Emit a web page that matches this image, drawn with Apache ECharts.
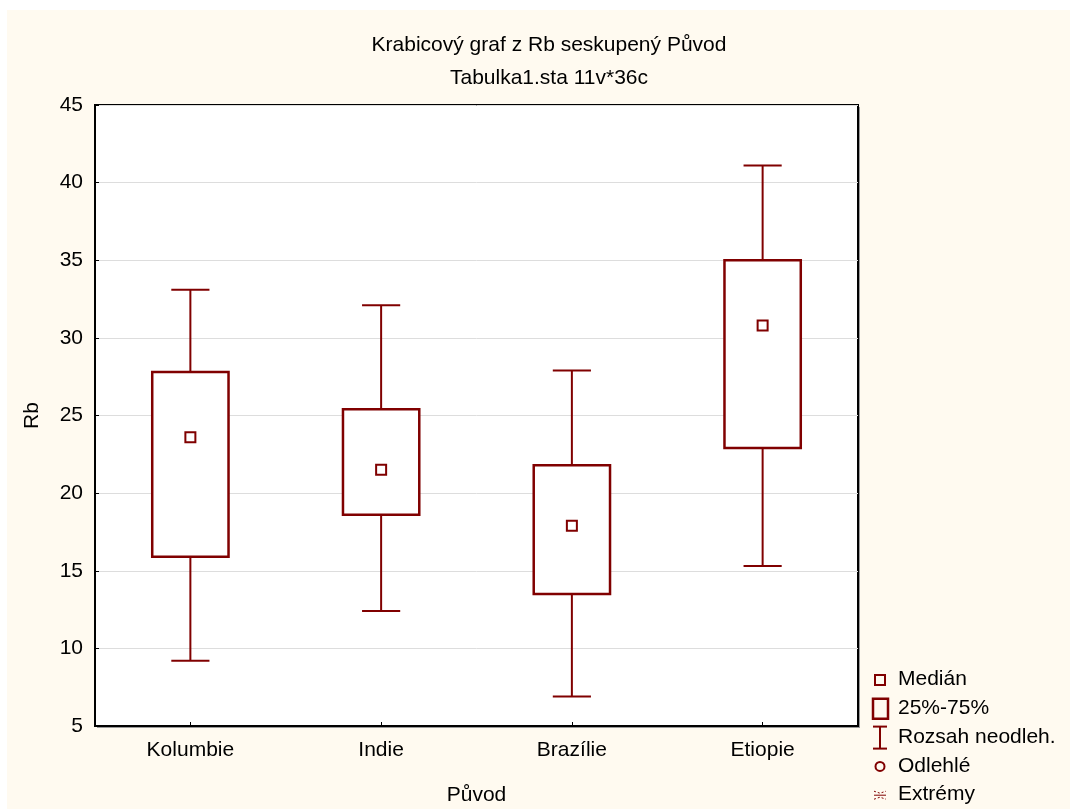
<!DOCTYPE html>
<html>
<head>
<meta charset="utf-8">
<script src="https://cdn.jsdelivr.net/npm/echarts@6/dist/echarts.min.js"></script>
<style>
html,body{margin:0;padding:0;background:#fff;overflow:hidden;}
#c{width:1070px;height:809px;}
</style>
</head>
<body>
<div id="c"></div>
<script>
// ---- data ----
var categories = ['Kolumbie', 'Indie', 'Brazílie', 'Etiopie'];
var whiskerLow  = [9.2, 12.4, 6.9, 15.3];
var q1          = [15.9, 18.6, 13.5, 22.9];
var medians     = [23.6, 21.5, 17.9, 30.8];
var q3          = [27.8, 25.4, 21.8, 35.0];
var whiskerHigh = [33.1, 32.1, 27.9, 41.1];
var yTicks = [5, 10, 15, 20, 25, 30, 35, 40, 45];
var legendLabels = ['Medián', '25%-75%', 'Rozsah neodleh.', 'Odlehlé', 'Extrémy'];

var FONT = 'Liberation Sans, Arial, sans-serif';
var FS = 21;
var RED = '#800000';

var seriesData = categories.map(function (c, i) {
  return [i, whiskerLow[i], q1[i], medians[i], q3[i], whiskerHigh[i]];
});

function renderBox(params, api) {
  var i = api.value(0);
  var band = api.size([1, 0])[0];
  var bw = band * 0.4, cw = band * 0.2;
  var pLo = api.coord([i, api.value(1)]);
  var pQ1 = api.coord([i, api.value(2)]);
  var pMd = api.coord([i, api.value(3)]);
  var pQ3 = api.coord([i, api.value(4)]);
  var pHi = api.coord([i, api.value(5)]);
  var x = pLo[0];
  var ls = {stroke: RED, lineWidth: 2, fill: null};
  return {
    type: 'group',
    children: [
      {type: 'line', shape: {x1: x, y1: pHi[1], x2: x, y2: pQ3[1]}, style: ls},
      {type: 'line', shape: {x1: x - cw / 2, y1: pHi[1], x2: x + cw / 2, y2: pHi[1]}, style: ls},
      {type: 'line', shape: {x1: x, y1: pLo[1], x2: x, y2: pQ1[1]}, style: ls},
      {type: 'line', shape: {x1: x - cw / 2, y1: pLo[1], x2: x + cw / 2, y2: pLo[1]}, style: ls},
      {type: 'rect', shape: {x: x - bw / 2, y: pQ3[1], width: bw, height: pQ1[1] - pQ3[1]},
        style: {stroke: RED, lineWidth: 2.5, fill: '#fff'}},
      {type: 'rect', shape: {x: x - 5, y: pMd[1] - 5, width: 10, height: 10},
        style: {stroke: RED, lineWidth: 2, fill: '#fff'}}
    ]
  };
}

// legend graphics
var lgX = 880, lgTextX = 898, lgY0 = 680, lgStep = 28.8;
var legendGraphics = [];
legendLabels.forEach(function (t, k) {
  legendGraphics.push({type: 'text', left: lgTextX, top: lgY0 + k * lgStep - 11,
    style: {text: t, fill: '#000', font: FS + 'px ' + FONT}});
});
var ly = function (k) { return lgY0 + k * lgStep; };
legendGraphics.push(
  {type: 'rect', shape: {x: lgX - 5, y: ly(0) - 5, width: 10, height: 10}, style: {stroke: RED, lineWidth: 2, fill: 'transparent'}},
  {type: 'rect', shape: {x: lgX - 7, y: ly(1) - 10, width: 15, height: 20}, style: {stroke: RED, lineWidth: 2.5, fill: 'transparent'}},
  {type: 'line', shape: {x1: lgX, y1: ly(2) - 11, x2: lgX, y2: ly(2) + 11}, style: {stroke: RED, lineWidth: 2}},
  {type: 'line', shape: {x1: lgX - 7, y1: ly(2) - 11, x2: lgX + 7, y2: ly(2) - 11}, style: {stroke: RED, lineWidth: 2}},
  {type: 'line', shape: {x1: lgX - 7, y1: ly(2) + 11, x2: lgX + 7, y2: ly(2) + 11}, style: {stroke: RED, lineWidth: 2}},
  {type: 'circle', shape: {cx: lgX, cy: ly(3), r: 4.5}, style: {stroke: RED, lineWidth: 2, fill: 'transparent'}},
  {type: 'polyline', shape: {points: [[lgX - 6, ly(4) - 4], [lgX, ly(4) - 2], [lgX + 6, ly(4) - 4]]}, style: {stroke: RED, lineWidth: 1, lineDash: [2, 2], fill: null}},
  {type: 'line', shape: {x1: lgX - 6, y1: ly(4), x2: lgX + 6, y2: ly(4)}, style: {stroke: RED, lineWidth: 1}},
  {type: 'polyline', shape: {points: [[lgX - 6, ly(4) + 4], [lgX, ly(4) + 2], [lgX + 6, ly(4) + 4]]}, style: {stroke: RED, lineWidth: 1, lineDash: [2, 2], fill: null}}
);

var chart = echarts.init(document.getElementById('c'));
chart.setOption({
  animation: false,
  backgroundColor: '#fff',
  graphic: [
    {type: 'rect', z: -10, shape: {x: 7, y: 10, width: 1063, height: 799}, style: {fill: '#FFFAF0'}},
    {type: 'rect', z: -9, shape: {x: 97, y: 107, width: 763, height: 621}, style: {fill: '#999'}}
  ].concat(legendGraphics),
  title: [
    {text: 'Krabicový graf z Rb seskupený Původ', left: 544, top: 30, textAlign: 'center',
      textStyle: {fontFamily: FONT, fontSize: FS, fontWeight: 'normal', color: '#000'}},
    {text: 'Tabulka1.sta 11v*36c', left: 544, top: 63, textAlign: 'center',
      textStyle: {fontFamily: FONT, fontSize: FS, fontWeight: 'normal', color: '#000'}}
  ],
  grid: {left: 95, top: 105, right: 212, bottom: 83, show: true, backgroundColor: '#fff',
    borderColor: '#000', borderWidth: 2, containLabel: false, outerBoundsMode: 'none'},
  xAxis: {
    type: 'category', data: categories, boundaryGap: true,
    name: 'Původ', nameLocation: 'middle', nameGap: 59,
    nameTextStyle: {fontFamily: FONT, fontSize: FS, color: '#000'},
    axisLine: {show: true, lineStyle: {color: '#000', width: 2}},
    axisTick: {show: true, inside: true, length: 4, alignWithLabel: true, lineStyle: {color: '#000'}},
    axisLabel: {fontFamily: FONT, fontSize: FS, color: '#000', margin: 14},
    splitLine: {show: false}
  },
  yAxis: {
    type: 'value', min: 5, max: 45, interval: 5,
    name: 'Rb', nameLocation: 'middle', nameGap: 52,
    nameTextStyle: {fontFamily: FONT, fontSize: FS, color: '#000'},
    axisLine: {show: true, lineStyle: {color: '#000', width: 2}},
    axisTick: {show: true, inside: true, length: 4, lineStyle: {color: '#000'}},
    axisLabel: {fontFamily: FONT, fontSize: FS, color: '#000', margin: 12,
      formatter: function (v) { return yTicks.indexOf(v) >= 0 ? String(v) : ''; }},
    splitLine: {show: true, lineStyle: {color: '#dddddd', width: 1}}
  },
  series: [{
    type: 'custom',
    renderItem: renderBox,
    encode: {x: 0, y: [1, 2, 3, 4, 5]},
    data: seriesData,
    clip: false
  }]
});
</script>
</body>
</html>
